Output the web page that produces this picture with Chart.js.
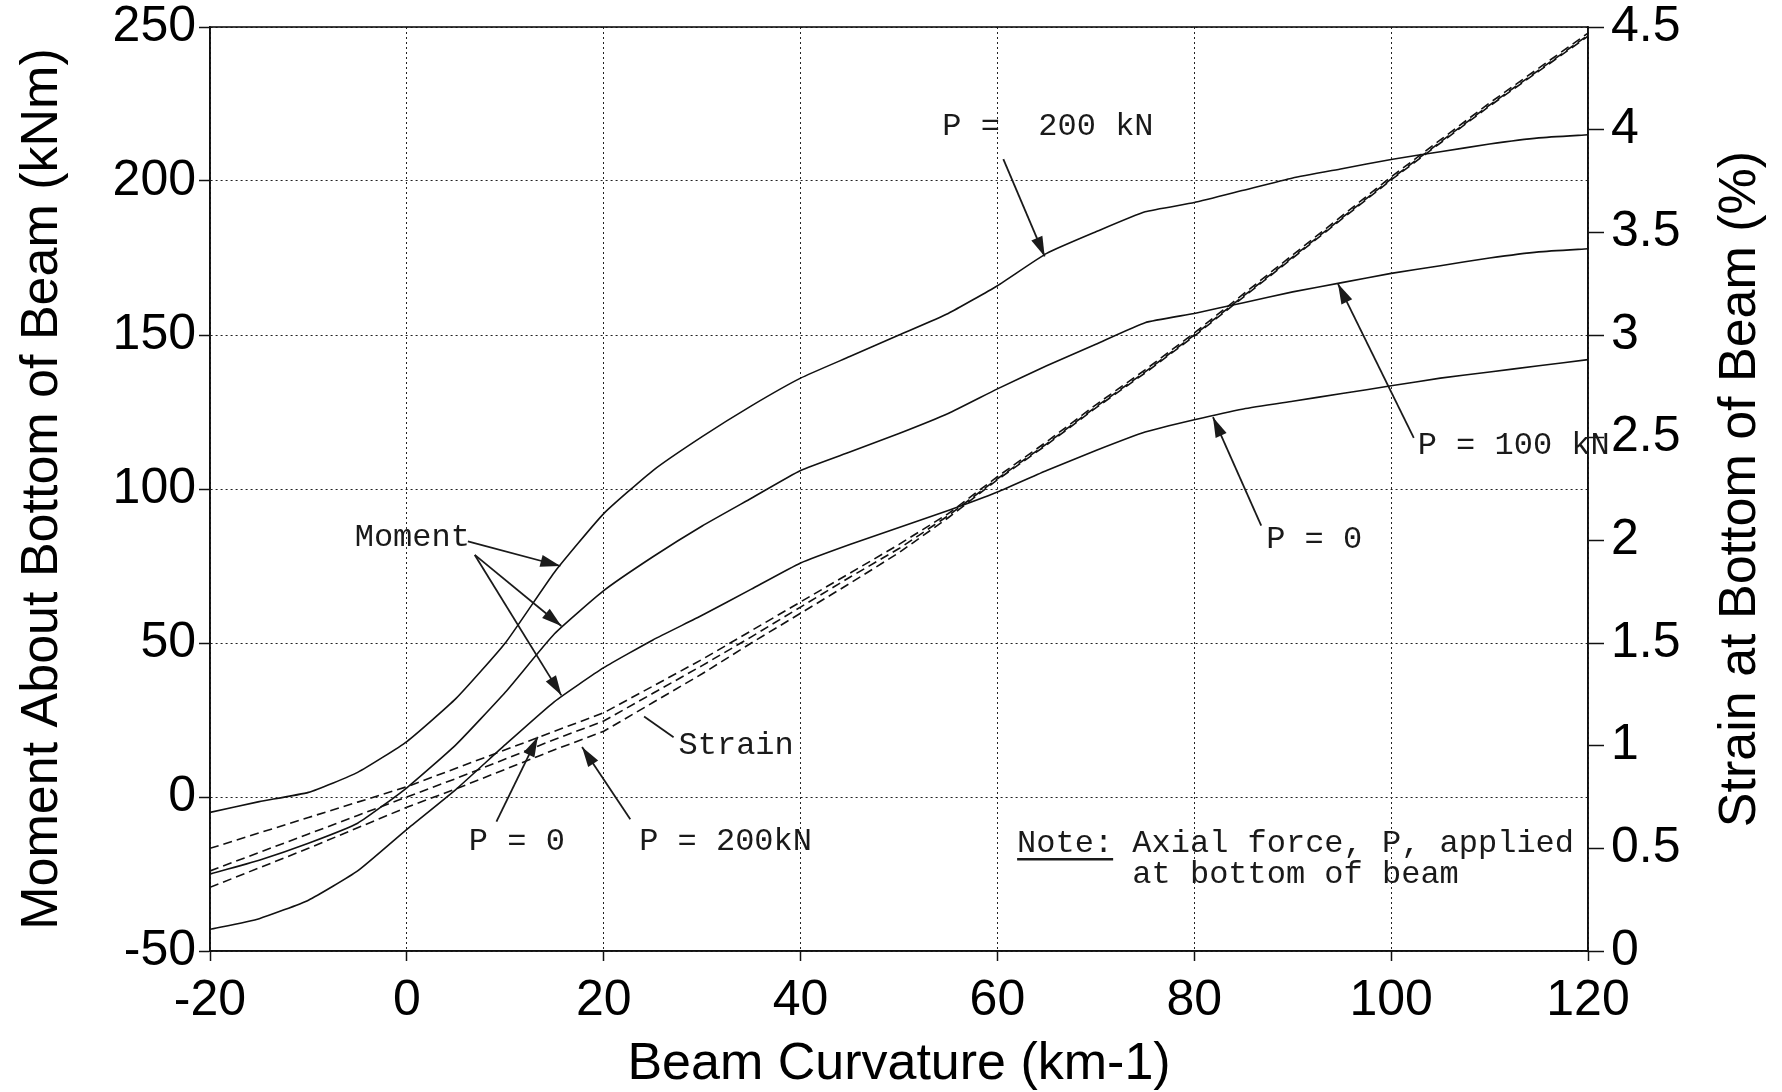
<!DOCTYPE html>
<html>
<head>
<meta charset="utf-8">
<script src="https://cdn.jsdelivr.net/npm/chart.js@4.4.1/dist/chart.umd.min.js"></script>
<style>
  html, body { margin: 0; padding: 0; background: #fff; }
  #wrap { width: 1782px; height: 1092px; position: relative; }
</style>
</head>
<body>
<div id="wrap"><canvas id="chart"></canvas></div>
<script>
// Beam curvature (km-1), shared by every curve
const curvature = [-20,-15,-10,-5,0,5,10,15,20,25,30,35,40,45,50,55,60,65,70,75,80,85,90,95,100,105,110,115,120];

// Moment about bottom of beam (kNm)
const momentP0   = [-43,-39.5,-33.5,-24,-10.5,2.5,17,31,42,51,59,67.5,76,82,87.5,93,99,106,112.5,118.5,122.5,126,128.5,131,133.5,136,138,140,142];
const momentP100 = [-25,-20.5,-15,-8.5,3,17,34,53,67,78,88,97,106,112,118,124.5,132.5,140,147,154,157,160.5,164,167,170,172.5,175,177,178];
const momentP200 = [-5,-1.5,1.5,8,18,32,50,73,92,106,117,127,136,143,150,157,166,176.5,183.5,190,193,197,201,204,207,209.5,212,214,215];

// Strain at bottom of beam (%)
const strainP0   = [0.50,0.575,0.65,0.725,0.80,0.89,0.98,1.07,1.16,1.29,1.42,1.56,1.70,1.84,1.98,2.13,2.31,2.48,2.66,2.83,3.01,3.20,3.39,3.58,3.77,3.95,4.13,4.30,4.47];
const strainP100 = [0.39,0.48,0.57,0.66,0.75,0.84,0.935,1.03,1.12,1.255,1.39,1.53,1.675,1.82,1.96,2.12,2.30,2.47,2.65,2.82,3.00,3.19,3.38,3.57,3.76,3.94,4.12,4.29,4.46];
const strainP200 = [0.31,0.405,0.50,0.60,0.70,0.79,0.885,0.98,1.07,1.21,1.35,1.50,1.645,1.79,1.94,2.11,2.295,2.465,2.645,2.815,2.995,3.185,3.375,3.565,3.755,3.935,4.115,4.285,4.455];

// Annotation texts (placed in curvature / moment units)
const labels = [
  { text: 'P =  200 kN', x: 54.4, y: 217.8 },
  { text: 'P = 100 kN', x: 102.7, y: 114 },
  { text: 'P = 0', x: 87.3, y: 83.7 },
  { text: 'Moment', x: -5.3, y: 84.4 },
  { text: 'Strain', x: 27.6, y: 16.8 },
  { text: 'P = 0', x: 6.3, y: -14.6 },
  { text: 'P = 200kN', x: 23.6, y: -14.6 },
  { text: 'Note: Axial force, P, applied', x: 62, y: -15 },
  { text: '      at bottom of beam', x: 62, y: -25.3 }
];
// [x1, y1, x2, y2, head]
const arrows = [
  [60.6, 207.1, 64.8, 175.5, true],
  [102.3, 116.6, 94.6, 166.6, true],
  [86.8, 88.1, 81.9, 123.3, true],
  [6.2, 83, 15.6, 75, true],
  [6.9, 78.6, 15.7, 55.5, true],
  [6.9, 78.6, 15.7, 33, true],
  [27.1, 19.4, 24.1, 26.1, false],
  [9.1, -8, 13.3, 19.5, true],
  [22.7, -7.2, 17.8, 16.2, true]
];

const pts = arr => curvature.map((c, i) => ({ x: c, y: arr[i] }));
const solid = (label, arr) => ({ label, data: pts(arr), yAxisID: 'y', borderColor: '#111', borderWidth: 1.6, pointRadius: 0, tension: 0.15 });
const dashed = (label, arr) => ({ label, data: pts(arr), yAxisID: 'y2', borderColor: '#111', borderWidth: 1.6, borderDash: [9, 5], pointRadius: 0, tension: 0 });

function drawArrow(ctx, x1, y1, x2, y2, head) {
  ctx.beginPath();
  ctx.moveTo(x1, y1);
  ctx.lineTo(x2, y2);
  ctx.stroke();
  if (!head) return;
  const ang = Math.atan2(y2 - y1, x2 - x1);
  const len = 20, w = 6;
  ctx.beginPath();
  ctx.moveTo(x2, y2);
  ctx.lineTo(x2 - len * Math.cos(ang) + w * Math.sin(ang), y2 - len * Math.sin(ang) - w * Math.cos(ang));
  ctx.lineTo(x2 - len * Math.cos(ang) - w * Math.sin(ang), y2 - len * Math.sin(ang) + w * Math.cos(ang));
  ctx.closePath();
  ctx.fill();
}

const extras = {
  id: 'extras',
  afterDraw(chart) {
    const { ctx, chartArea: a, scales: { x, y, y2 } } = chart;
    const px = v => x.getPixelForValue(v);
    const py = v => y.getPixelForValue(v);
    ctx.save();
    // frame
    ctx.strokeStyle = '#111';
    ctx.lineWidth = 1.6;
    ctx.strokeRect(a.left, a.top, a.right - a.left, a.bottom - a.top);

    // notes and arrows
    ctx.fillStyle = '#1a1a1a';
    ctx.strokeStyle = '#1a1a1a';
    ctx.lineWidth = 1.8;
    ctx.font = '32px "Liberation Mono", "Courier New", monospace';
    ctx.textAlign = 'left';
    ctx.textBaseline = 'middle';
    labels.forEach(l => ctx.fillText(l.text, px(l.x), py(l.y)));
    arrows.forEach(r => drawArrow(ctx, px(r[0]), py(r[1]), px(r[2]), py(r[3]), r[4]));
    // underline under "Note:"
    const nx = px(62), nw = ctx.measureText('Note:').width;
    ctx.lineWidth = 2.5;
    ctx.beginPath();
    ctx.moveTo(nx, py(-15) + 16);
    ctx.lineTo(nx + nw, py(-15) + 16);
    ctx.stroke();

    // right axis title, reading bottom to top
    ctx.fillStyle = '#000';
    ctx.font = '52px "Liberation Sans", Arial, sans-serif';
    ctx.textAlign = 'center';
    ctx.translate(y2.right - 41, (a.top + a.bottom) / 2);
    ctx.rotate(-Math.PI / 2);
    ctx.fillText('Strain at Bottom of Beam (%)', 0, 0);
    ctx.restore();
  }
};

const tickFont = { family: '"Liberation Sans", Arial, sans-serif', size: 50, lineHeight: 1 };
const yTickFont = { family: '"Liberation Sans", Arial, sans-serif', size: 50, lineHeight: 0.8 };
const titleFont = { family: '"Liberation Sans", Arial, sans-serif', size: 52, lineHeight: 1 };

new Chart(document.getElementById('chart'), {
  type: 'line',
  data: {
    datasets: [
      solid('Moment P = 0', momentP0),
      solid('Moment P = 100 kN', momentP100),
      solid('Moment P = 200 kN', momentP200),
      dashed('Strain P = 0', strainP0),
      dashed('Strain P = 100 kN', strainP100),
      dashed('Strain P = 200 kN', strainP200)
    ]
  },
  options: {
    responsive: true,
    maintainAspectRatio: false,
    animation: false,
    layout: { padding: { top: 27, left: 0, right: 0, bottom: 0 } },
    plugins: { legend: { display: false }, tooltip: { enabled: false } },
    scales: {
      x: {
        type: 'linear', min: -20, max: 120,
        afterFit: s => { s.height = 141; },
        ticks: { stepSize: 20, color: '#000', font: tickFont, padding: 15, maxRotation: 0 },
        grid: { color: '#222', lineWidth: 1, tickLength: 10, tickColor: '#111', tickWidth: 1.5 },
        border: { color: '#111', width: 1.6, dash: [2, 3] },
        title: { display: true, text: 'Beam Curvature (km-1)', color: '#000', font: titleFont, padding: { top: 0, bottom: 1 } }
      },
      y: {
        position: 'left', min: -50, max: 250,
        afterFit: s => { s.width = 210; },
        ticks: { stepSize: 50, color: '#000', font: yTickFont, padding: 3 },
        grid: { color: '#222', lineWidth: 1, tickLength: 11, tickColor: '#111', tickWidth: 1.5 },
        border: { color: '#111', width: 1.6, dash: [2, 3] },
        title: { display: true, text: 'Moment About Bottom of Beam (kNm)', color: '#000', font: titleFont, padding: { top: 17, bottom: 0 } }
      },
      y2: {
        position: 'right', min: 0, max: 4.5,
        afterFit: s => { s.width = 194; },
        ticks: { stepSize: 0.5, color: '#000', font: yTickFont, padding: 7, callback: v => String(v) },
        grid: { drawOnChartArea: false, tickLength: 16, tickColor: '#111', tickWidth: 1.5 },
        border: { color: '#111', width: 1.6 }
      }
    }
  },
  plugins: [extras]
});
</script>
</body>
</html>
